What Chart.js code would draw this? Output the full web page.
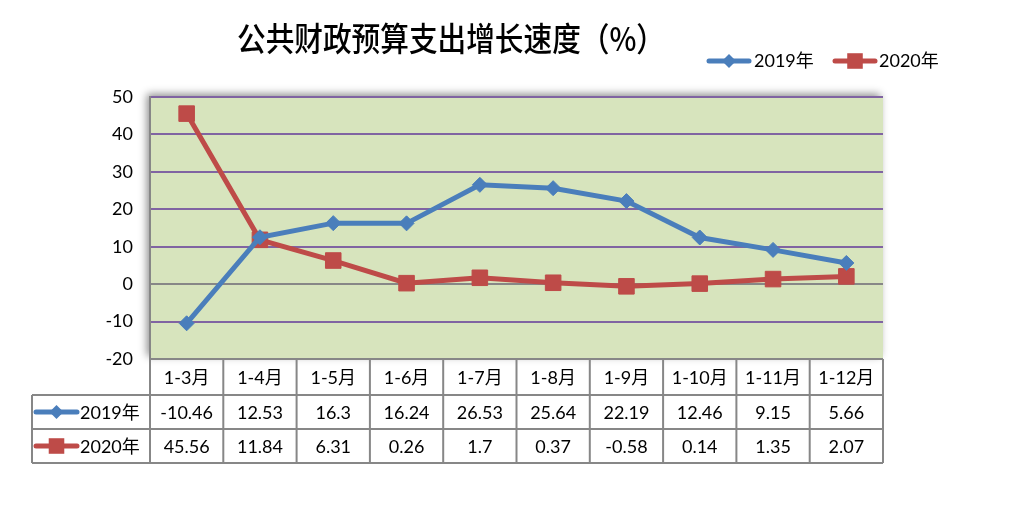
<!DOCTYPE html>
<html>
<head>
<meta charset="utf-8">
<script src="https://cdn.jsdelivr.net/npm/chart.js@4"></script>
<style>
  html, body { margin: 0; padding: 0; background: #fff; }
  #wrap { width: 1021px; height: 517px; }
</style>
</head>
<body>
<div id="wrap"><canvas id="chart" width="1021" height="517"></canvas></div>
<script>
const categories = ['1-3月', '1-4月', '1-5月', '1-6月', '1-7月', '1-8月', '1-9月', '1-10月', '1-11月', '1-12月'];
const values2019 = [-10.46, 12.53, 16.3, 16.24, 26.53, 25.64, 22.19, 12.46, 9.15, 5.66];
const values2020 = [45.56, 11.84, 6.31, 0.26, 1.7, 0.37, -0.58, 0.14, 1.35, 2.07];
const yTicks = [-20, -10, 0, 10, 20, 30, 40, 50];

const BLUE = '#4a7ebb';
const RED = '#be4b48';
const GRID = '#8064a2';
const GRAY = '#878787';
const FONT = "Lato, 'Noto Sans CJK SC', sans-serif";

function drawMarker(ctx, style, x, y, r, color) {
    ctx.fillStyle = color;
    ctx.beginPath();
    if (style === 'rectRot') {
        ctx.moveTo(x - r, y);
        ctx.lineTo(x, y - r);
        ctx.lineTo(x + r, y);
        ctx.lineTo(x, y + r);
        ctx.closePath();
    } else {
        const s = r * Math.SQRT1_2;
        ctx.rect(x - s, y - s, 2 * s, 2 * s);
    }
    ctx.fill();
}

function legendKey(ctx, x1, x2, y, style, r, color) {
    ctx.strokeStyle = color;
    ctx.lineWidth = 5;
    ctx.lineCap = 'round';
    ctx.beginPath();
    ctx.moveTo(x1, y);
    ctx.lineTo(x2, y);
    ctx.stroke();
    ctx.lineCap = 'butt';
    drawMarker(ctx, style, (x1 + x2) / 2, y, r, color);
}

// plot background with a soft shadow
const plotBackground = {
    id: 'plotBackground',
    beforeDraw(chart) {
        const { ctx, chartArea: a } = chart;
        ctx.save();
        ctx.shadowColor = 'rgba(0,0,0,0.45)';
        ctx.shadowBlur = 8;
        ctx.shadowOffsetX = -3;
        ctx.shadowOffsetY = -3;
        ctx.fillStyle = '#d7e4bd';
        ctx.fillRect(a.left, a.top, a.right - a.left, a.bottom - a.top);
        ctx.restore();
    }
};

// title, legend and the data table under the plot
const extras = {
    id: 'extras',
    afterDraw(chart) {
        const { ctx, chartArea: a } = chart;
        const xs = chart.scales.x;
        ctx.save();

        // title
        const title = '公共财政预算支出增长速度（%）';
        ctx.font = "500 28px 'Noto Sans CJK SC'";
        ctx.fillStyle = '#000';
        ctx.textBaseline = 'middle';
        ctx.textAlign = 'center';
        const tw = ctx.measureText(title).width;
        ctx.save();
        ctx.translate(451, 38);
        ctx.scale(428 / tw, 1.18);
        ctx.fillText(title, 0, 0);
        ctx.restore();

        // top legend
        ctx.font = '18px ' + FONT;
        ctx.textAlign = 'left';
        legendKey(ctx, 709, 749, 61, 'rectRot', 7, BLUE);
        ctx.fillStyle = '#000';
        ctx.fillText('2019年', 754, 61);
        legendKey(ctx, 835, 875, 61, 'rect', 11, RED);
        ctx.fillStyle = '#000';
        ctx.fillText('2020年', 879, 61);

        // table
        const colW = (a.right - a.left) / categories.length;
        const top = a.bottom;
        const r1 = top + 36, r2 = r1 + 34, r3 = r2 + 34;
        const left = 32;

        ctx.strokeStyle = GRAY;
        ctx.lineWidth = 2;
        ctx.beginPath();
        ctx.moveTo(a.left, top); ctx.lineTo(a.right, top);
        [r1, r2, r3].forEach(y => { ctx.moveTo(left, y); ctx.lineTo(a.right, y); });
        ctx.moveTo(left, r1); ctx.lineTo(left, r3);
        for (let i = 0; i <= categories.length; i++) {
            const x = a.left + i * colW;
            ctx.moveTo(x, top); ctx.lineTo(x, r3);
        }
        ctx.stroke();

        ctx.font = '18px ' + FONT;
        ctx.fillStyle = '#000';
        ctx.textAlign = 'center';
        categories.forEach((c, i) => {
            const x = xs.getPixelForValue(i);
            ctx.fillText(c, x, (top + r1) / 2 + 1);
            ctx.fillText(String(values2019[i]), x, (r1 + r2) / 2 + 1);
            ctx.fillText(String(values2020[i]), x, (r2 + r3) / 2 + 1);
        });

        ctx.textAlign = 'left';
        legendKey(ctx, 36, 77, (r1 + r2) / 2, 'rectRot', 7, BLUE);
        ctx.fillStyle = '#000';
        ctx.fillText('2019年', 80, (r1 + r2) / 2 + 1);
        legendKey(ctx, 36, 77, (r2 + r3) / 2, 'rect', 11, RED);
        ctx.fillStyle = '#000';
        ctx.fillText('2020年', 80, (r2 + r3) / 2 + 1);

        ctx.restore();
    }
};

new Chart(document.getElementById('chart'), {
    type: 'line',
    data: {
        labels: categories,
        datasets: [
            {
                label: '2019年',
                data: values2019,
                borderColor: BLUE,
                backgroundColor: BLUE,
                borderWidth: 5,
                pointStyle: 'rectRot',
                pointRadius: 7.5,
                pointBorderWidth: 1,
                tension: 0
            },
            {
                label: '2020年',
                data: values2020,
                borderColor: RED,
                backgroundColor: RED,
                borderWidth: 5,
                pointStyle: 'rect',
                pointRadius: 11,
                pointBorderWidth: 1,
                tension: 0
            }
        ]
    },
    options: {
        responsive: false,
        animation: false,
        devicePixelRatio: 1,
        layout: { padding: { left: 105, right: 138, top: 97, bottom: 158 } },
        plugins: {
            legend: { display: false },
            title: { display: false },
            tooltip: { enabled: false }
        },
        scales: {
            x: {
                display: false,
                offset: true
            },
            y: {
                min: -20,
                max: 50,
                afterFit(scale) { scale.width = 45; },
                afterBuildTicks(scale) { scale.ticks = yTicks.map(v => ({ value: v })); },
                border: { display: true, color: GRAY, width: 2 },
                grid: {
                    drawTicks: false,
                    lineWidth: 2,
                    color: ctx => (ctx.tick && (ctx.tick.value === 0 || ctx.tick.value === -20)) ? GRAY : GRID
                },
                ticks: {
                    padding: 17,
                    color: '#000',
                    font: { family: FONT, size: 18 }
                }
            }
        }
    },
    plugins: [plotBackground, extras]
});
</script>
</body>
</html>
